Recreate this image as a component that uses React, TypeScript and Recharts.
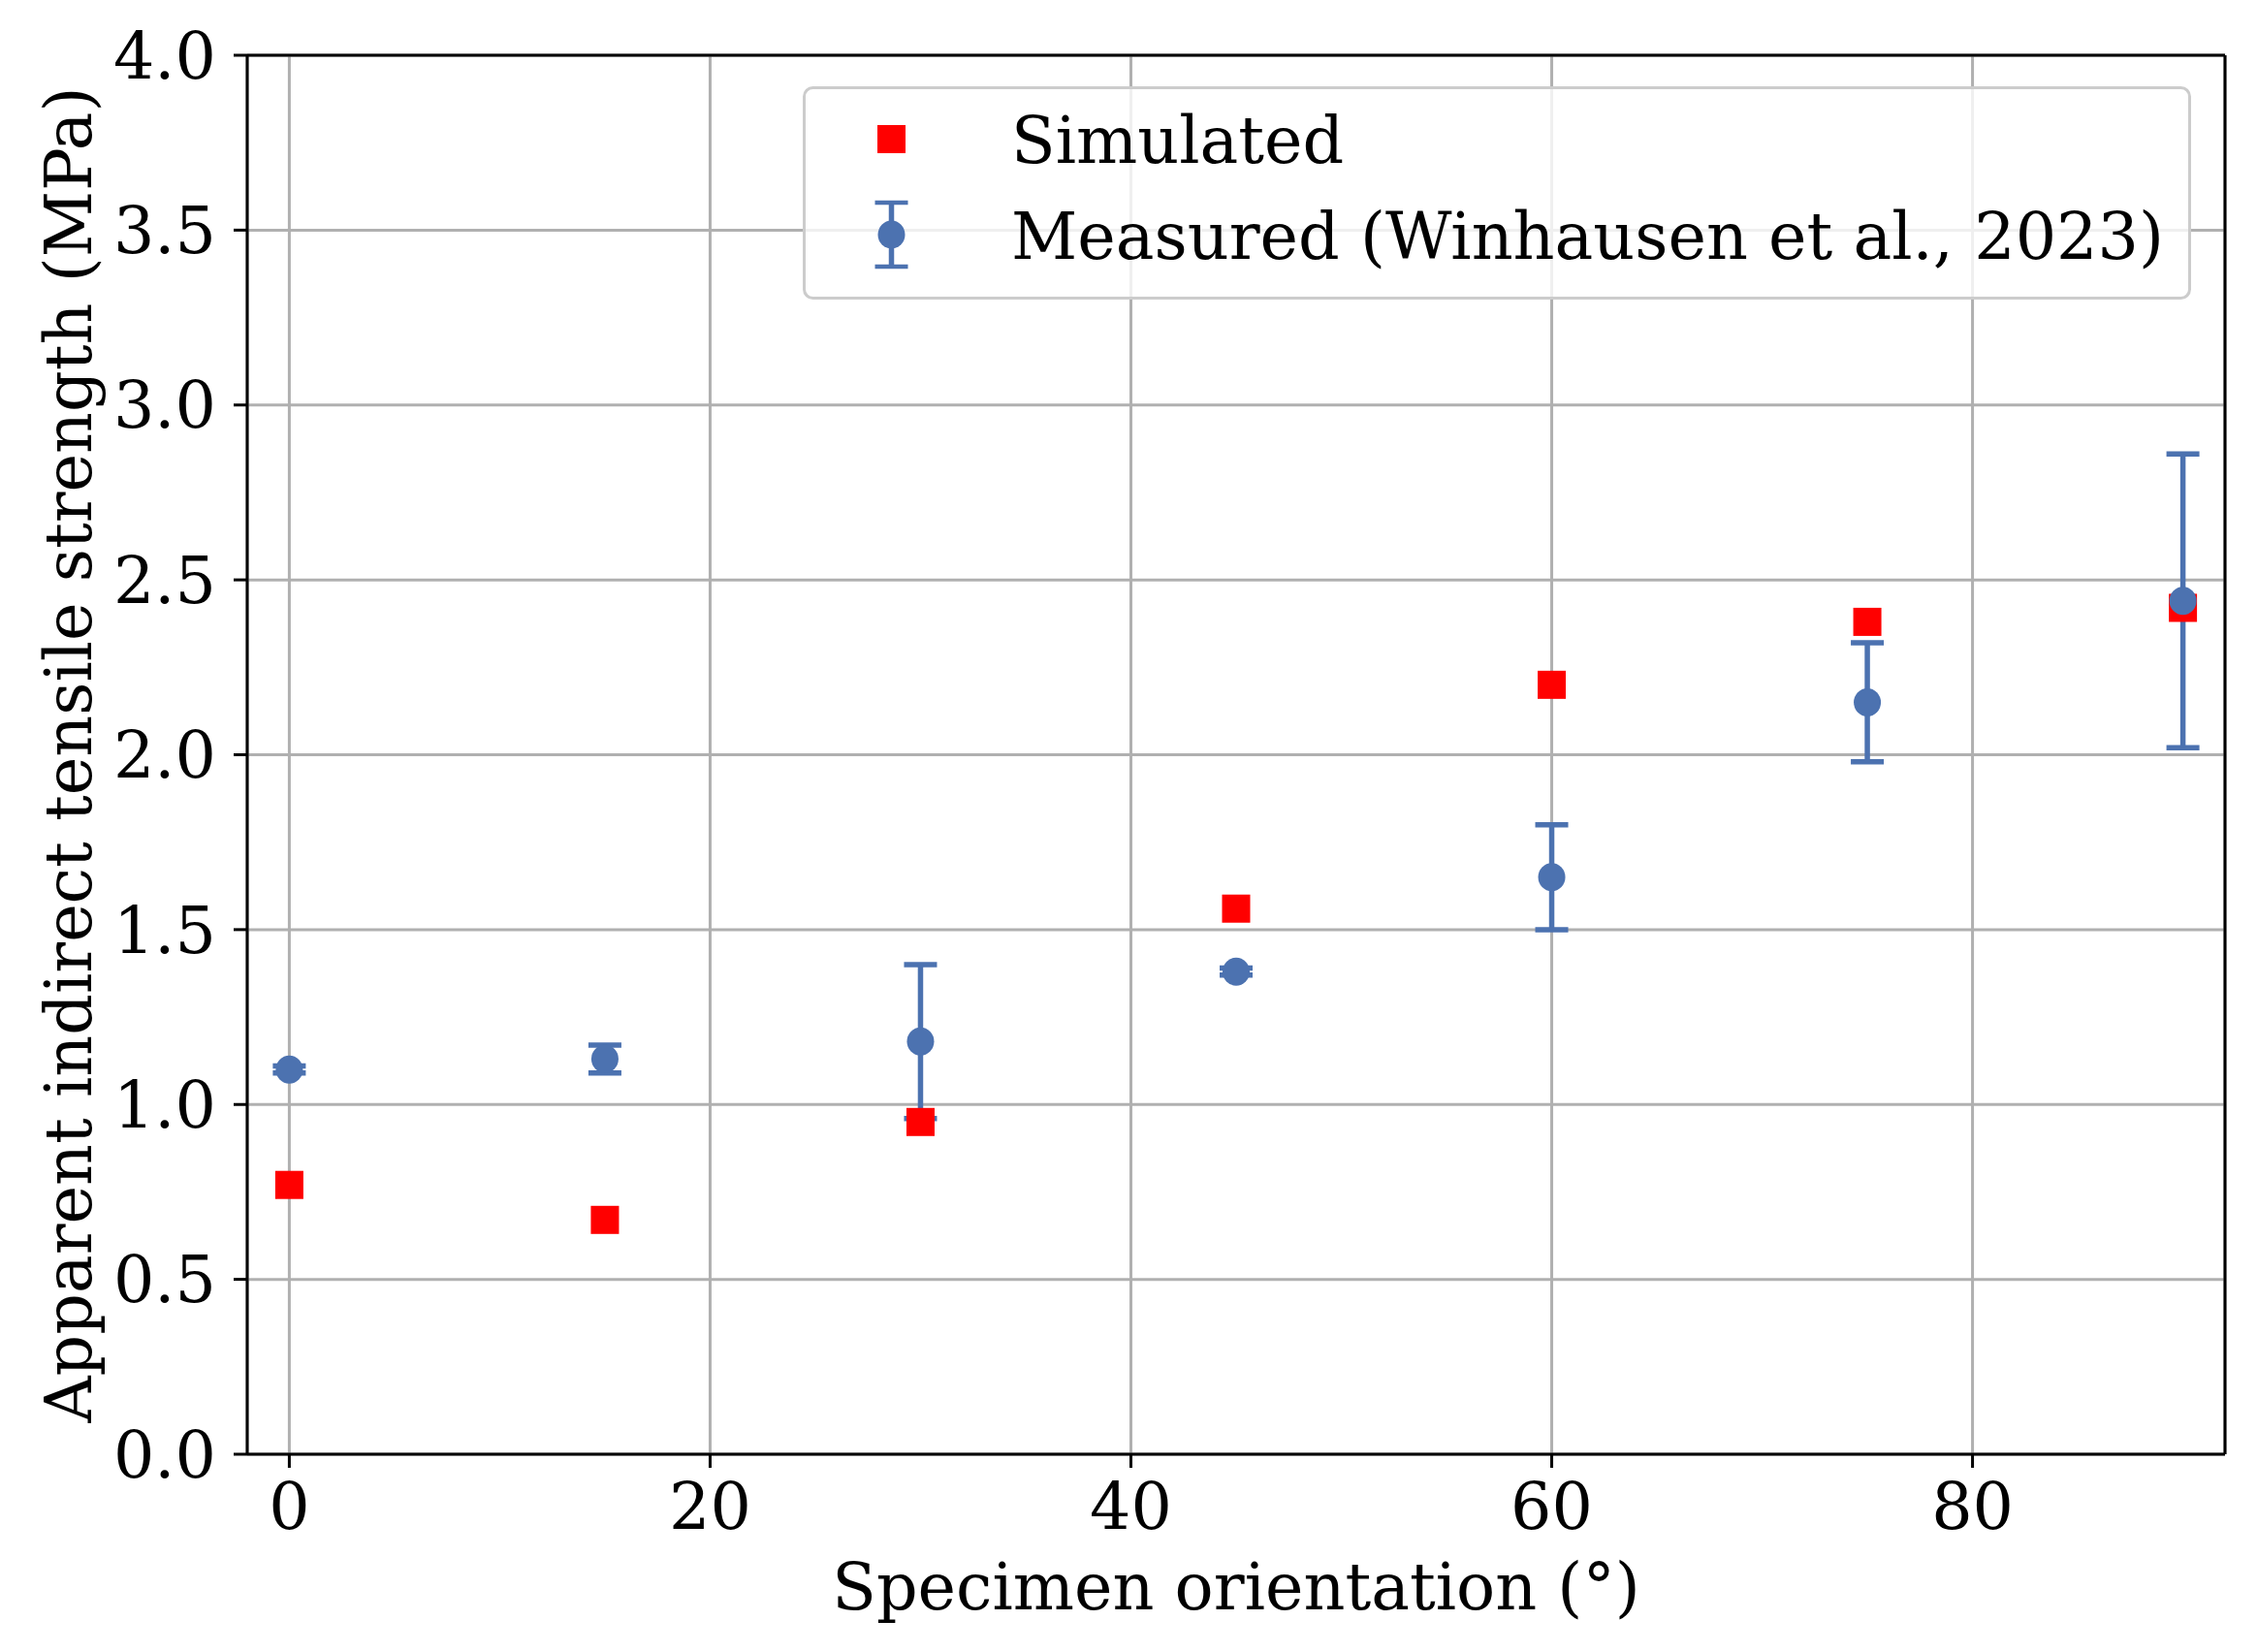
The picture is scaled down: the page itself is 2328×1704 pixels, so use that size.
import {
  ErrorBar,
  ReferenceLine,
  Scatter,
  ScatterChart,
  XAxis,
  YAxis,
  CartesianGrid,
  Legend,
} from "recharts";

const angles = [0, 15, 30, 45, 60, 75, 90];
const simulated = [0.77, 0.67, 0.95, 1.56, 2.2, 2.38, 2.42];
const measured = [1.1, 1.13, 1.18, 1.38, 1.65, 2.15, 2.44];
const measuredErr = [0.01, 0.04, 0.22, 0.01, 0.15, 0.17, 0.42];

const xTicks = [0, 20, 40, 60, 80];
const yTicks = [0, 0.5, 1, 1.5, 2, 2.5, 3, 3.5, 4];

const RED = "#ff0000";
const BLUE = "#4c72b0";
const GRID = "#b0b0b0";
const FONT = "DejaVu Serif";
const FS = 66.7;

const simData = angles.map((x, i) => ({ x, y: simulated[i] }));
const measData = angles.map((x, i) => ({ x, y: measured[i], err: measuredErr[i] }));

const tickStyle = { fill: "#000", fontSize: FS, fontFamily: FONT };

function SquareMark(props: any) {
  const { cx, cy } = props;
  if (cx == null || cy == null) return <g />;
  return <rect x={cx - 14.5} y={cy - 14.5} width={29} height={29} fill={RED} />;
}

function DotMark(props: any) {
  const { cx, cy } = props;
  if (cx == null || cy == null) return <g />;
  return <ellipse cx={cx} cy={cy} rx={14} ry={14.5} fill={BLUE} />;
}

function YLabel(props: any) {
  const vb = props.viewBox || { x: 0, y: 0, width: 0, height: 0 };
  const cy = vb.y + vb.height / 2;
  const x = 86;
  return (
    <text
      x={x}
      y={cy}
      transform={`rotate(-90 ${x} ${cy})`}
      textAnchor="middle"
      fontSize={FS}
      fontFamily={FONT}
      fill="#000"
    >
      Apparent indirect tensile strength (MPa)
    </text>
  );
}

function LegendBox() {
  return (
    <svg width={1432} height={220} style={{ display: "block" }}>
      <rect
        x={1.5}
        y={1.5}
        width={1429}
        height={217}
        rx={9}
        fill="rgba(255,255,255,0.8)"
        stroke="#cccccc"
        strokeWidth={3}
      />
      <rect x={77} y={40} width={29} height={29} fill={RED} />
      <text x={215} y={79} fontSize={FS} fontFamily={FONT} fill="#000">
        Simulated
      </text>
      <line x1={91.5} y1={118} x2={91.5} y2={188} stroke={BLUE} strokeWidth={5.5} />
      <line x1={74.5} y1={120} x2={108.5} y2={120} stroke={BLUE} strokeWidth={4.5} />
      <line x1={74.5} y1={186} x2={108.5} y2={186} stroke={BLUE} strokeWidth={4.5} />
      <ellipse cx={91.5} cy={153} rx={14} ry={14.5} fill={BLUE} />
      <text x={215} y={178} fontSize={FS} fontFamily={FONT} fill="#000">
        Measured (Winhausen et al., 2023)
      </text>
    </svg>
  );
}

export default function App() {
  return (
    <ScatterChart
      width={2320}
      height={1696}
      margin={{ top: 49, right: 33, left: 0, bottom: 0 }}
    >
      <CartesianGrid stroke={GRID} strokeWidth={3} />
      <XAxis
        type="number"
        dataKey="x"
        domain={[-2, 92]}
        ticks={xTicks}
        allowDataOverflow
        height={204}
        tickSize={14}
        tickMargin={16}
        axisLine={{ stroke: "#000", strokeWidth: 3 }}
        tickLine={{ stroke: "#000", strokeWidth: 3 }}
        tick={tickStyle}
        label={{
          value: "Specimen orientation (°)",
          position: "insideBottom",
          offset: 44,
          fontSize: FS,
          fontFamily: FONT,
          fill: "#000",
        }}
      />
      <YAxis
        type="number"
        dataKey="y"
        domain={[0, 4]}
        ticks={yTicks}
        allowDataOverflow
        width={247}
        tickSize={14}
        tickMargin={18}
        axisLine={{ stroke: "#000", strokeWidth: 3 }}
        tickLine={{ stroke: "#000", strokeWidth: 3 }}
        tick={tickStyle}
        tickFormatter={(v: number) => v.toFixed(1)}
        label={<YLabel />}
      />
      <ReferenceLine y={4} stroke="#000" strokeWidth={3} />
      <ReferenceLine x={92} stroke="#000" strokeWidth={3} />

      {/* error bars sit under the simulated squares */}
      <Scatter
        name="bars"
        data={measData}
        shape={() => <g />}
        isAnimationActive={false}
        legendType="none"
      >
        <ErrorBar
          dataKey="err"
          direction="y"
          width={17}
          stroke={BLUE}
          strokeWidth={5.5}
          isAnimationActive={false}
        />
      </Scatter>
      <Scatter
        name="Simulated"
        data={simData}
        shape={SquareMark}
        isAnimationActive={false}
      />
      <Scatter
        name="Measured (Winhausen et al., 2023)"
        data={measData}
        shape={DotMark}
        isAnimationActive={false}
      />

      <Legend
        layout="vertical"
        verticalAlign="middle"
        align="center"
        content={() => <LegendBox />}
        wrapperStyle={{ left: 820, top: 81, width: 1432, height: 220 }}
      />
    </ScatterChart>
  );
}
